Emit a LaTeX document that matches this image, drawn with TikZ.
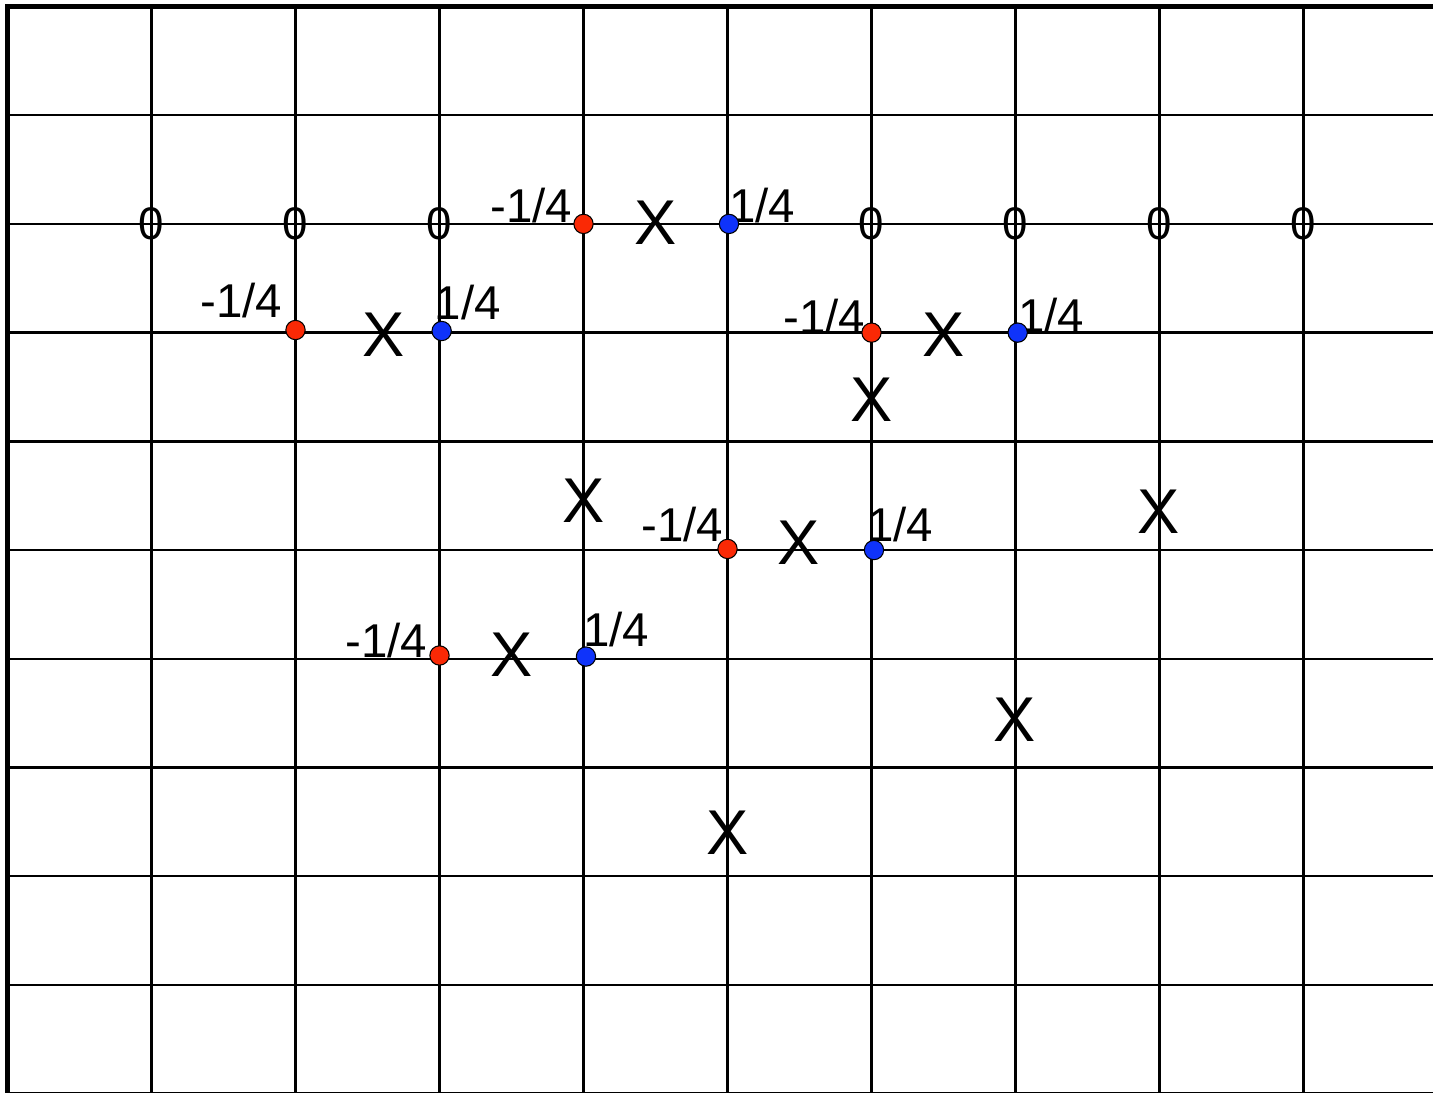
\documentclass[tikz,border=0pt]{standalone}
\usepackage{fontspec}
\setmainfont{Liberation Sans}
\usepackage{tkz-euclide}
\definecolor{NegClr}{rgb}{0.98,0.16,0.02}
\definecolor{PosClr}{rgb}{0.06,0.2,0.98}
\tikzset{
  gridline/.style={line width=1.4pt,black},
  frameline/.style={line width=3pt,black,line join=miter},
  zerolab/.style={font=\fontsize{26}{30}\selectfont,inner sep=0pt},
  fraclab/.style={font=\fontsize{27}{31}\selectfont,inner sep=0pt},
  xmark/.style={font=\fontsize{36}{40}\selectfont,inner sep=0pt}
}

\begin{document}
\begin{tikzpicture}[x=2.88cm,y=-2.174cm]
\useasboundingbox (-0.052,-0.06) rectangle (9.899,9.986);

% grid
\foreach \i in {1,...,9} \draw[gridline] (\i,0) -- (\i,10.1);
\foreach \j in {1,...,10} \draw[gridline] (0,\j) -- (10.1,\j);
\draw[frameline] (0,10.1) -- (0,0) -- (10.1,0);

\tkzDefPoints{4/2/N1,2/2.976/N2,6/3/N3,5/4.99/N4,3/5.97/N5}
\tkzDefPoints{5.01/2/P1,3.015/2.985/P2,7.015/3/P3,6.017/5/P4,4.017/5.98/P5}

% zeros on row 2
\foreach \c [count=\k] in {1,2,3,6,7,8,9}
  \node[zerolab] (z\k) at (\c,2) {0};

% crosses
\node[xmark] (x1) at (4.5,1.992) {X};
\node[xmark] (x2) at (2.615,3.022) {X};
\node[xmark] (x3) at (6.497,3.022) {X};
\node[xmark] (x4) at (6,3.62) {X};
\node[xmark] (x5) at (4.003,4.549) {X};
\node[xmark] (x6) at (5.497,4.936) {X};
\node[xmark] (x7) at (7.99,4.65) {X};
\node[xmark] (x8) at (3.503,5.966) {X};
\node[xmark] (x9) at (6.99,6.56) {X};
\node[xmark] (x10) at (5,7.6) {X};

\tkzLabelPoint[fraclab,anchor=base east,xshift=-6.3pt,yshift=0.6pt](N1){-1/4}
\tkzLabelPoint[fraclab,anchor=base east,xshift=-7.4pt,yshift=7.4pt](N2){-1/4}
\tkzLabelPoint[fraclab,anchor=base east,xshift=-3.4pt,yshift=-0.6pt](N3){-1/4}
\tkzLabelPoint[fraclab,anchor=base east,xshift=-2.3pt,yshift=4pt](N4){-1/4}
\tkzLabelPoint[fraclab,anchor=base east,xshift=-6.8pt,yshift=-1.1pt](N5){-1/4}
\tkzLabelPoint[fraclab,anchor=base west,xshift=0pt,yshift=0.6pt](P1){1/4}
\tkzLabelPoint[fraclab,anchor=base west,xshift=-4pt,yshift=6.3pt](P2){1/4}
\tkzLabelPoint[fraclab,anchor=base west,xshift=0pt,yshift=0pt](P3){1/4}
\tkzLabelPoint[fraclab,anchor=base west,xshift=-4pt,yshift=4.6pt](P4){1/4}
\tkzLabelPoint[fraclab,anchor=base west,xshift=-1.7pt,yshift=5.7pt](P5){1/4}

\tkzDrawPoints[size=11,color=black,fill=NegClr,line width=0.6pt](N1,N2,N3,N4,N5)
\tkzDrawPoints[size=11,color=black,fill=PosClr,line width=0.6pt](P1,P2,P3,P4,P5)

\end{tikzpicture}
\end{document}
